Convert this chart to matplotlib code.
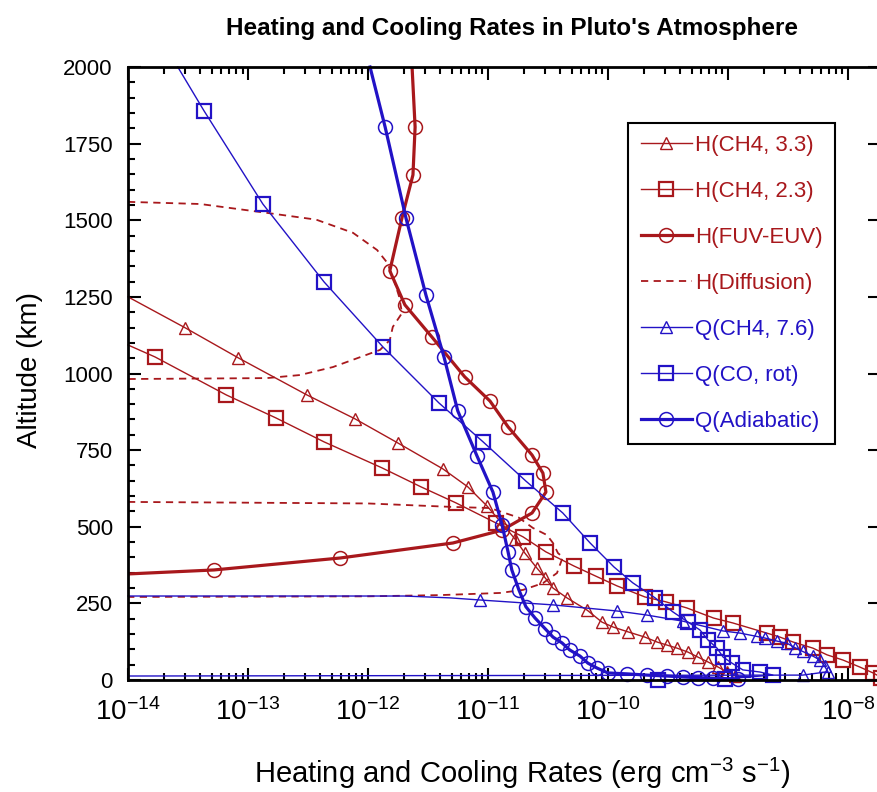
import matplotlib.pyplot as plt
from matplotlib.ticker import MultipleLocator, FixedLocator, LogLocator, NullFormatter, FuncFormatter
import numpy as np

plt.rcParams['font.family'] = ['Liberation Sans', 'DejaVu Sans']
plt.rcParams['mathtext.fontset'] = 'custom'
plt.rcParams['mathtext.rm'] = 'Liberation Sans'
plt.rcParams['mathtext.it'] = 'Liberation Sans:italic'
plt.rcParams['mathtext.bf'] = 'Liberation Sans:bold'

RED = '#a8181c'
BLUE = '#2212c6'

# altitude (km) and rate (erg cm-3 s-1) for each profile
alt_ch4_33 = [1250, 1149, 1051, 930, 852, 773, 689, 630, 568, 512, 460, 414, 365, 333, 300, 268,
              228, 189, 173, 157, 140, 124, 114, 104, 91, 75, 59, 42, 26, 13]
h_ch4_33 = [1.0e-14, 3.0e-14, 8.3e-14, 3.1e-13, 7.8e-13, 1.78e-12, 4.2e-12, 6.8e-12, 9.8e-12, 1.3e-11,
            1.68e-11, 2.03e-11, 2.56e-11, 3.0e-11, 3.48e-11, 4.55e-11, 6.7e-11, 8.9e-11, 1.10e-10,
            1.47e-10, 2.03e-10, 2.56e-10, 3.1e-10, 3.76e-10, 4.64e-10, 5.6e-10, 6.8e-10, 8.3e-10,
            9.8e-10, 1.15e-9]

alt_ch4_23 = [1093, 1054, 930, 855, 777, 692, 630, 578, 512, 467, 418, 372, 339, 307, 271, 255, 235,
              202, 186, 153, 140, 124, 104, 82, 65, 42, 23, 8]
h_ch4_23 = [1.0e-14, 1.68e-14, 6.6e-14, 1.71e-13, 4.3e-13, 1.31e-12, 2.77e-12, 5.4e-12, 1.17e-11,
            1.96e-11, 3.04e-11, 5.2e-11, 7.9e-11, 1.19e-10, 2.03e-10, 3.04e-10, 4.55e-10, 7.6e-10,
            1.10e-9, 2.11e-9, 2.71e-9, 3.48e-9, 5.1e-9, 6.7e-9, 9.1e-9, 1.26e-8, 1.62e-8, 1.9e-8]

alt_fuv = [2000, 1804, 1648, 1508, 1335, 1224, 1119, 989, 910, 826, 734, 675, 613, 545, 489, 447,
           398, 359, 346]
h_fuv = [2.33e-12, 2.47e-12, 2.37e-12, 1.92e-12, 1.52e-12, 2.03e-12, 3.41e-12, 6.4e-12, 1.04e-11,
         1.47e-11, 2.33e-11, 2.87e-11, 3.04e-11, 2.33e-11, 1.31e-11, 5.1e-12, 5.85e-13, 5.2e-14, 1.0e-14]

alt_diff = [1560, 1553, 1524, 1502, 1459, 1403, 1361, 1300, 1250, 1197, 1152, 1109, 1077, 1021, 995,
            985, 982, np.nan, 581, 576, 565, 561, 530, 496, 473, 447, 414, 401, 349, 316, 294, 284,
            277, 273, 271]
h_diff = [1.0e-14, 4.0e-14, 1.44e-13, 3.7e-13, 7.5e-13, 1.19e-12, 1.45e-12, 1.66e-12, 1.82e-12,
          1.92e-12, 1.61e-12, 1.52e-12, 1.26e-12, 5.1e-13, 2.71e-13, 1.44e-13, 1.0e-14, np.nan,
          1.0e-14, 1.0e-12, 4.8e-12, 1.04e-11, 1.8e-11, 2.37e-11, 3.1e-11, 3.48e-11, 3.83e-11,
          4.2e-11, 3.76e-11, 2.87e-11, 1.96e-11, 1.26e-11, 4.0e-12, 1.0e-12, 1.0e-14]

alt_q_ch4 = [274, 274, 268, 261, 245, 225, 212, 192, 160, 153, 142, 137, 127, 120, 106, 93, 78, 65,
             45, 27, 16, 13]
q_ch4 = [1.0e-14, 2.0e-12, 4.8e-12, 8.6e-12, 3.5e-11, 1.2e-10, 2.1e-10, 4.2e-10, 9.1e-10, 1.26e-9,
         1.75e-9, 2.03e-9, 2.56e-9, 3.1e-9, 3.6e-9, 4.2e-9, 5.1e-9, 5.85e-9, 6.4e-9, 6.8e-9,
         4.2e-9, 1.0e-14]

alt_q_co = [2000, 1857, 1553, 1299, 1087, 904, 777, 649, 545, 447, 369, 317, 268, 222, 189, 163, 131,
            104, 75, 55, 33, 26, 16, 4, 0]
q_co = [2.6e-14, 4.3e-14, 1.33e-13, 4.3e-13, 1.33e-12, 3.9e-12, 9.1e-12, 2.07e-11, 4.2e-11, 7.1e-11,
        1.12e-10, 1.61e-10, 2.47e-10, 3.48e-10, 4.64e-10, 5.85e-10, 6.8e-10, 8.1e-10, 9.1e-10,
        1.08e-9, 1.33e-9, 1.85e-9, 2.37e-9, 9.4e-10, 2.6e-10]

alt_adiab = [2000, 1804, 1508, 1256, 1054, 878, 731, 613, 506, 418, 359, 294, 239, 202, 167, 140, 121,
             98, 78, 55, 39, 23, 20, 16, 13, 10, 8, 6, 3]
q_adiab = [1.04e-12, 1.39e-12, 2.07e-12, 3.04e-12, 4.3e-12, 5.6e-12, 8.1e-12, 1.10e-11, 1.31e-11,
           1.47e-11, 1.58e-11, 1.81e-11, 2.07e-11, 2.47e-11, 3.0e-11, 3.48e-11, 4.14e-11, 4.8e-11,
           5.85e-11, 6.8e-11, 8.1e-11, 1.0e-10, 1.44e-10, 2.11e-10, 3.1e-10, 4.2e-10, 5.6e-10,
           7.5e-10, 1.21e-9]

x_decades = [1e-14, 1e-13, 1e-12, 1e-11, 1e-10, 1e-9, 1e-8]

fig = plt.figure(figsize=(8.78, 7.92), dpi=100)
ax = fig.add_axes([128 / 878, 1 - 680 / 792, 752 / 878, 613 / 792])

thin = dict(lw=1.0, mfc='none', clip_on=False)
ax.plot(h_ch4_33, alt_ch4_33, color=RED, marker='^', ms=9, mew=1.0, markevery=slice(1, None),
        label='H(CH4, 3.3)', **thin)
ax.plot(h_ch4_23, alt_ch4_23, color=RED, marker='s', ms=10, mew=1.6, markevery=slice(1, None),
        label='H(CH4, 2.3)', **thin)
ax.plot(h_fuv, alt_fuv, color=RED, lw=2.3, marker='o', ms=10, mew=1.1, mfc='none',
        markevery=slice(1, -1), label='H(FUV-EUV)')
ax.plot(h_diff, alt_diff, color=RED, lw=1.3, ls=(0, (4, 3)), label='H(Diffusion)')
ax.plot(q_ch4, alt_q_ch4, color=BLUE, marker='^', ms=9, mew=1.0, markevery=slice(3, -1),
        label='Q(CH4, 7.6)', **thin)
ax.plot(q_co, alt_q_co, color=BLUE, marker='s', ms=10, mew=1.6, markevery=slice(1, None),
        label='Q(CO, rot)', **thin)
ax.plot(q_adiab, alt_adiab, color=BLUE, lw=2.3, marker='o', ms=10, mew=1.1, mfc='none',
        markevery=slice(1, None), label='Q(Adiabatic)', clip_on=False)

ax.set_xscale('log')
ax.set_xlim(1e-14, 10 ** -7.733)
ax.set_ylim(0, 2000)
ax.yaxis.set_major_locator(MultipleLocator(250))
ax.yaxis.set_minor_locator(MultipleLocator(50))
ax.xaxis.set_major_locator(FixedLocator(x_decades))
ax.xaxis.set_minor_locator(LogLocator(base=10, subs=np.arange(2, 10), numticks=20))
ax.xaxis.set_minor_formatter(NullFormatter())
ax.xaxis.set_major_formatter(FuncFormatter(lambda v, p: r'$10^{%d}$' % round(np.log10(v))))

ax.tick_params(which='both', direction='in', top=True, right=True, width=1.5, colors='black')
ax.tick_params(which='major', length=9)
ax.tick_params(which='minor', length=5, right=False)
ax.tick_params(axis='y', labelsize=16, pad=11)
ax.tick_params(axis='x', labelsize=20, pad=13)
for s in ax.spines.values():
    s.set_linewidth(2)

fig.text(512 / 878, 1 - 28 / 792, "Heating and Cooling Rates in Pluto's Atmosphere",
         ha='center', va='center', fontsize=17.5, fontweight='bold')
fig.text(522 / 878, 1 - 773 / 792, r'Heating and Cooling Rates (erg cm$^{-3}$ s$^{-1}$)',
         ha='center', va='center', fontsize=21)
fig.text(30 / 878, 1 - 370 / 792, 'Altitude (km)', rotation=90, ha='center', va='center',
         fontsize=20)

leg = ax.legend(loc='upper right', bbox_to_anchor=(835 / 878, 1 - 123 / 792),
                bbox_transform=fig.transFigure, fontsize=16, labelcolor='linecolor',
                fancybox=False, framealpha=1, edgecolor='black', borderpad=0.55,
                labelspacing=1.12, handlelength=2.3, handletextpad=0.15, borderaxespad=0)
leg.get_frame().set_linewidth(1.5)

fig.savefig('out.png', dpi=100)
